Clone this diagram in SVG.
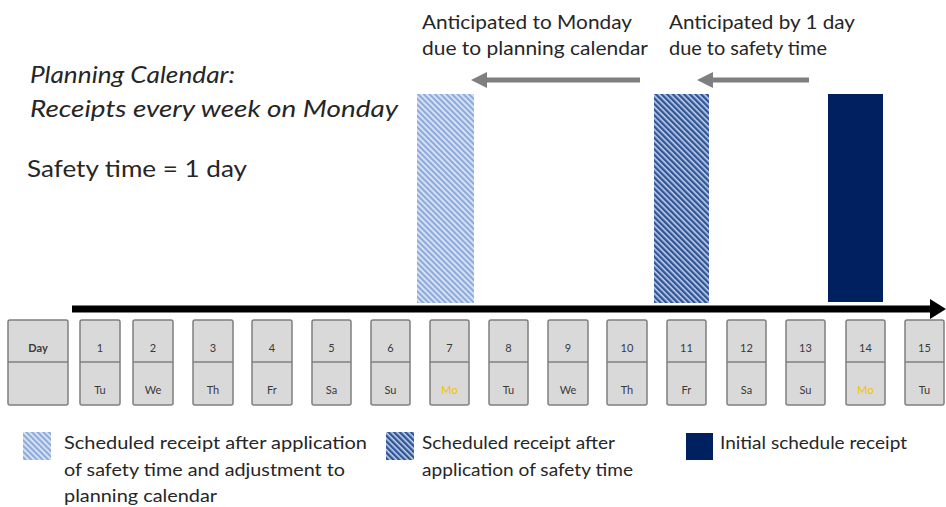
<svg xmlns="http://www.w3.org/2000/svg" width="946" height="507" viewBox="0 0 946 507">
<style>
text{font-family:Lato,"Liberation Sans",sans-serif;fill:#262626}
.big{font-size:20px}
.leg{font-size:17px}
.it{font-style:italic;font-size:23px}
.box{fill:#d9d9d9;stroke:#7f7f7f;stroke-width:1.5}
.div{stroke:#7f7f7f;stroke-width:1.5}
.n{font-size:11px;fill:#3a3a3a;text-anchor:middle}
.d{font-size:11px;fill:#3a3a3a;text-anchor:middle}
.mo{fill:#f2c200}
.conn{stroke:#7f7f7f;stroke-width:5;fill:none}
.head{fill:#7f7f7f}
</style>
<defs>
<pattern id="light" patternUnits="userSpaceOnUse" width="4" height="4" patternTransform="rotate(-45)">
<rect width="4" height="4" fill="#dce6f7"/>
<rect width="2.2" height="4" fill="#8eaadb"/>
</pattern>
<pattern id="dark" patternUnits="userSpaceOnUse" width="4" height="4" patternTransform="rotate(-45)">
<rect width="4" height="4" fill="#c5d3ec"/>
<rect width="2.4" height="4" fill="#2f5597"/>
</pattern>
</defs>

<g id="texts">
<text class="it" x="30" y="83" textLength="205" lengthAdjust="spacingAndGlyphs">Planning Calendar:</text>
<text class="it" x="30" y="117" textLength="368" lengthAdjust="spacingAndGlyphs">Receipts every week on Monday</text>
<text class="it" style="font-style:normal" x="27" y="177" textLength="220" lengthAdjust="spacingAndGlyphs">Safety time = 1 day</text>
<text class="big" x="422" y="29" textLength="210" lengthAdjust="spacingAndGlyphs">Anticipated to Monday</text>
<text class="big" x="422" y="55" textLength="226" lengthAdjust="spacingAndGlyphs">due to planning calendar</text>
<text class="big" x="669" y="29" textLength="186" lengthAdjust="spacingAndGlyphs">Anticipated by 1 day</text>
<text class="big" x="669" y="55" textLength="158" lengthAdjust="spacingAndGlyphs">due to safety time</text>
</g>

<g id="bar-adjusted"><rect x="417" y="94" width="57" height="209" fill="url(#light)"/></g>
<g id="bar-safety"><rect x="654" y="94" width="55" height="209" fill="url(#dark)"/></g>
<g id="bar-initial"><rect x="828" y="94" width="55" height="208" fill="#002060"/></g>

<g id="connectors">
<line class="conn" x1="640" y1="80" x2="484" y2="80"/>
<path class="head" d="M471,80 L487,72 L487,88 z"/>
<line class="conn" x1="809" y1="80" x2="710" y2="80"/>
<path class="head" d="M697,80 L713,72 L713,88 z"/>
<line x1="72" y1="309" x2="932" y2="309" stroke="#000" stroke-width="7"/>
<path d="M930,299 L946,309 L930,319 z" fill="#000"/>
</g>

<g id="day-header">
<rect class="box" x="8" y="320" width="60" height="85" rx="2"/>
<line class="div" x1="8" y1="362" x2="68" y2="362"/>
<text class="n" x="38" y="352" style="font-weight:bold">Day</text>
</g>
<g id="day1"><rect class="box" x="80" y="320" width="40" height="85" rx="2"/><line class="div" x1="80" y1="362" x2="120" y2="362"/><text class="n" x="100" y="352">1</text><text class="d" x="100" y="394">Tu</text></g>
<g id="day2"><rect class="box" x="133" y="320" width="40" height="85" rx="2"/><line class="div" x1="133" y1="362" x2="173" y2="362"/><text class="n" x="153" y="352">2</text><text class="d" x="153" y="394">We</text></g>
<g id="day3"><rect class="box" x="193" y="320" width="40" height="85" rx="2"/><line class="div" x1="193" y1="362" x2="233" y2="362"/><text class="n" x="213" y="352">3</text><text class="d" x="213" y="394">Th</text></g>
<g id="day4"><rect class="box" x="252" y="320" width="40" height="85" rx="2"/><line class="div" x1="252" y1="362" x2="292" y2="362"/><text class="n" x="272" y="352">4</text><text class="d" x="272" y="394">Fr</text></g>
<g id="day5"><rect class="box" x="312" y="320" width="39" height="85" rx="2"/><line class="div" x1="312" y1="362" x2="351" y2="362"/><text class="n" x="331.5" y="352">5</text><text class="d" x="331.5" y="394">Sa</text></g>
<g id="day6"><rect class="box" x="371" y="320" width="39" height="85" rx="2"/><line class="div" x1="371" y1="362" x2="410" y2="362"/><text class="n" x="390.5" y="352">6</text><text class="d" x="390.5" y="394">Su</text></g>
<g id="day7"><rect class="box" x="430" y="320" width="39" height="85" rx="2"/><line class="div" x1="430" y1="362" x2="469" y2="362"/><text class="n" x="449.5" y="352">7</text><text class="d mo" x="449.5" y="394">Mo</text></g>
<g id="day8"><rect class="box" x="489" y="320" width="39" height="85" rx="2"/><line class="div" x1="489" y1="362" x2="528" y2="362"/><text class="n" x="508.5" y="352">8</text><text class="d" x="508.5" y="394">Tu</text></g>
<g id="day9"><rect class="box" x="548" y="320" width="40" height="85" rx="2"/><line class="div" x1="548" y1="362" x2="588" y2="362"/><text class="n" x="568" y="352">9</text><text class="d" x="568" y="394">We</text></g>
<g id="day10"><rect class="box" x="607" y="320" width="40" height="85" rx="2"/><line class="div" x1="607" y1="362" x2="647" y2="362"/><text class="n" x="627" y="352">10</text><text class="d" x="627" y="394">Th</text></g>
<g id="day11"><rect class="box" x="667" y="320" width="39" height="85" rx="2"/><line class="div" x1="667" y1="362" x2="706" y2="362"/><text class="n" x="686.5" y="352">11</text><text class="d" x="686.5" y="394">Fr</text></g>
<g id="day12"><rect class="box" x="727" y="320" width="39" height="85" rx="2"/><line class="div" x1="727" y1="362" x2="766" y2="362"/><text class="n" x="746.5" y="352">12</text><text class="d" x="746.5" y="394">Sa</text></g>
<g id="day13"><rect class="box" x="786" y="320" width="39" height="85" rx="2"/><line class="div" x1="786" y1="362" x2="825" y2="362"/><text class="n" x="805.5" y="352">13</text><text class="d" x="805.5" y="394">Su</text></g>
<g id="day14"><rect class="box" x="846" y="320" width="39" height="85" rx="2"/><line class="div" x1="846" y1="362" x2="885" y2="362"/><text class="n" x="865.5" y="352">14</text><text class="d mo" x="865.5" y="394">Mo</text></g>
<g id="day15"><rect class="box" x="905" y="320" width="39" height="85" rx="2"/><line class="div" x1="905" y1="362" x2="944" y2="362"/><text class="n" x="924.5" y="352">15</text><text class="d" x="924.5" y="394">Tu</text></g>

<g id="legend-adjusted">
<rect x="23" y="432" width="28" height="28" fill="url(#light)"/>
<text class="leg" x="64" y="449" textLength="303" lengthAdjust="spacingAndGlyphs">Scheduled receipt after application</text>
<text class="leg" x="64" y="476" textLength="281" lengthAdjust="spacingAndGlyphs">of safety time and adjustment to</text>
<text class="leg" x="64" y="502" textLength="153" lengthAdjust="spacingAndGlyphs">planning calendar</text>
</g>
<g id="legend-safety">
<rect x="386" y="432" width="28" height="28" fill="url(#dark)"/>
<text class="leg" x="422" y="449" textLength="193" lengthAdjust="spacingAndGlyphs">Scheduled receipt after</text>
<text class="leg" x="422" y="476" textLength="211" lengthAdjust="spacingAndGlyphs">application of safety time</text>
</g>
<g id="legend-initial">
<rect x="686" y="433" width="27" height="27" fill="#002060"/>
<text class="leg" x="720" y="449" textLength="187" lengthAdjust="spacingAndGlyphs">Initial schedule receipt</text>
</g>
</svg>
